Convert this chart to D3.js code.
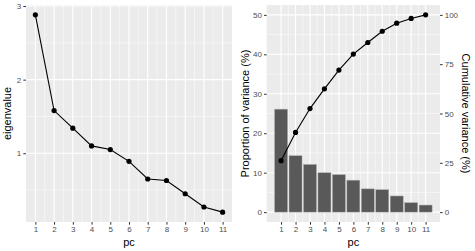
<!DOCTYPE html>
<html>
<head>
<meta charset="utf-8">
<script src="https://cdn.jsdelivr.net/npm/d3@7"></script>
<style>
body { margin: 0; background: #fff; }
text { font-family: "Liberation Sans", Arial, sans-serif; }
</style>
</head>
<body>
<svg id="canvas" width="475" height="251"></svg>
<script>
const pcs = [1, 2, 3, 4, 5, 6, 7, 8, 9, 10, 11];
const eigenvalues = [2.88, 1.58, 1.34, 1.10, 1.05, 0.89, 0.65, 0.63, 0.45, 0.27, 0.20];
const prop_var = [26.1, 14.3, 12.1, 10.0, 9.5, 8.1, 5.9, 5.7, 4.1, 2.4, 1.8];
const cum_var = [26.1, 40.4, 52.5, 62.5, 72.0, 80.1, 86.0, 91.7, 95.8, 98.2, 100];
const eig_ticks = [1, 2, 3];
const prop_ticks = [0, 10, 20, 30, 40, 50];
const cum_ticks = [0, 25, 50, 75, 100];

const svg = d3.select("svg#canvas");
const panel_bg = "#ebebeb";
const tick_col = "#4d4d4d";

const minor = ticks => ticks.slice(0, -1).map((t, i) => (t + ticks[i + 1]) / 2);

// draw grey panel + grid lines (ggplot style)
const draw_panel = (g, x, y, xt, yt, yminor) => {
    const [x0, x1] = x.range();
    const [y0, y1] = y.range();
    g.append("rect")
        .attr("x", x0).attr("y", y1)
        .attr("width", x1 - x0).attr("height", y0 - y1)
        .attr("fill", panel_bg);
    g.selectAll("line.ymin").data(yminor).join("line")
        .attr("x1", x0).attr("x2", x1)
        .attr("y1", d => y(d)).attr("y2", d => y(d))
        .attr("stroke", "#fff").attr("stroke-width", 0.5);
    g.selectAll("line.xmin").data(minor(xt)).join("line")
        .attr("y1", y0).attr("y2", y1)
        .attr("x1", d => x(d)).attr("x2", d => x(d))
        .attr("stroke", "#fff").attr("stroke-width", 0.5);
    g.selectAll("line.ymaj").data(yt).join("line")
        .attr("x1", x0).attr("x2", x1)
        .attr("y1", d => y(d)).attr("y2", d => y(d))
        .attr("stroke", "#fff").attr("stroke-width", 1.1);
    g.selectAll("line.xmaj").data(xt).join("line")
        .attr("y1", y0).attr("y2", y1)
        .attr("x1", d => x(d)).attr("x2", d => x(d))
        .attr("stroke", "#fff").attr("stroke-width", 1.1);
};

const style_axis = ax => {
    ax.select(".domain").remove();
    ax.selectAll(".tick line").attr("stroke", "#333").attr("stroke-width", 1);
    ax.selectAll(".tick text").attr("fill", tick_col).style("font-size", "8px");
};

// ---- left: scree plot
const x1 = d3.scaleLinear().domain([0.5, 11.5]).range([26, 232]);
const y1 = d3.scaleLinear().domain([0.066, 3.014]).range([222, 5]);
const g1 = svg.append("g");
draw_panel(g1, x1, y1, pcs, eig_ticks, [0.5, 1.5, 2.5]);

g1.append("g").attr("transform", "translate(0,222)")
    .call(d3.axisBottom(x1).tickValues(pcs).tickSize(2.7).tickPadding(2).tickFormat(d3.format("d")))
    .call(style_axis);
g1.append("g").attr("transform", "translate(26,0)")
    .call(d3.axisLeft(y1).tickValues(eig_ticks).tickSize(2.7).tickPadding(2).tickFormat(d3.format("d")))
    .call(style_axis);

g1.append("path")
    .datum(eigenvalues)
    .attr("d", d3.line().x((_, i) => x1(pcs[i])).y(d => y1(d)))
    .attr("fill", "none").attr("stroke", "#000").attr("stroke-width", 1.1);
g1.selectAll("circle").data(eigenvalues).join("circle")
    .attr("cx", (_, i) => x1(pcs[i])).attr("cy", d => y1(d))
    .attr("r", 2.6).attr("fill", "#000");

g1.append("text").attr("x", x1(6)).attr("y", 246)
    .attr("text-anchor", "middle").style("font-size", "11px").text("pc");
g1.append("text").attr("transform", "translate(11," + y1(1.54) + ") rotate(-90)")
    .attr("text-anchor", "middle").style("font-size", "11px").text("eigenvalue");

// ---- right: variance bars + cumulative line
const x2 = d3.scaleLinear().domain([0.005, 11.995]).range([266.7, 440]);
const y2 = d3.scaleLinear().domain([-2.5, 52.5]).range([222, 5]);
const y2c = d3.scaleLinear().domain([-5, 105]).range([222, 5]);
const g2 = svg.append("g");
draw_panel(g2, x2, y2, pcs, prop_ticks, minor(prop_ticks));

g2.selectAll("rect.bar").data(prop_var).join("rect")
    .attr("class", "bar")
    .attr("x", (_, i) => x2(pcs[i] - 0.45))
    .attr("width", x2(0.9) - x2(0))
    .attr("y", d => y2(d))
    .attr("height", d => y2(0) - y2(d))
    .attr("fill", "#595959")
    .attr("stroke", "#b0b0b0").attr("stroke-width", 0.5);

g2.append("path")
    .datum(cum_var)
    .attr("d", d3.line().x((_, i) => x2(pcs[i])).y(d => y2c(d)))
    .attr("fill", "none").attr("stroke", "#000").attr("stroke-width", 1.1);
g2.selectAll("circle").data(cum_var).join("circle")
    .attr("cx", (_, i) => x2(pcs[i])).attr("cy", d => y2c(d))
    .attr("r", 2.6).attr("fill", "#000");

g2.append("g").attr("transform", "translate(0,222)")
    .call(d3.axisBottom(x2).tickValues(pcs).tickSize(2.7).tickPadding(2).tickFormat(d3.format("d")))
    .call(style_axis);
g2.append("g").attr("transform", "translate(266.7,0)")
    .call(d3.axisLeft(y2).tickValues(prop_ticks).tickSize(2.7).tickPadding(2))
    .call(style_axis);
g2.append("g").attr("transform", "translate(440,0)")
    .call(d3.axisRight(y2c).tickValues(cum_ticks).tickSize(2.7).tickPadding(2))
    .call(style_axis);

g2.append("text").attr("x", x2(6)).attr("y", 246)
    .attr("text-anchor", "middle").style("font-size", "11px").text("pc");
g2.append("text").attr("transform", "translate(249," + y2(25) + ") rotate(-90)")
    .attr("text-anchor", "middle").style("font-size", "11px").text("Proportion of variance (%)");
g2.append("text").attr("transform", "translate(462," + y2(25) + ") rotate(90)")
    .attr("text-anchor", "middle").style("font-size", "11px").text("Cumulative variance (%)");
</script>
</body>
</html>
